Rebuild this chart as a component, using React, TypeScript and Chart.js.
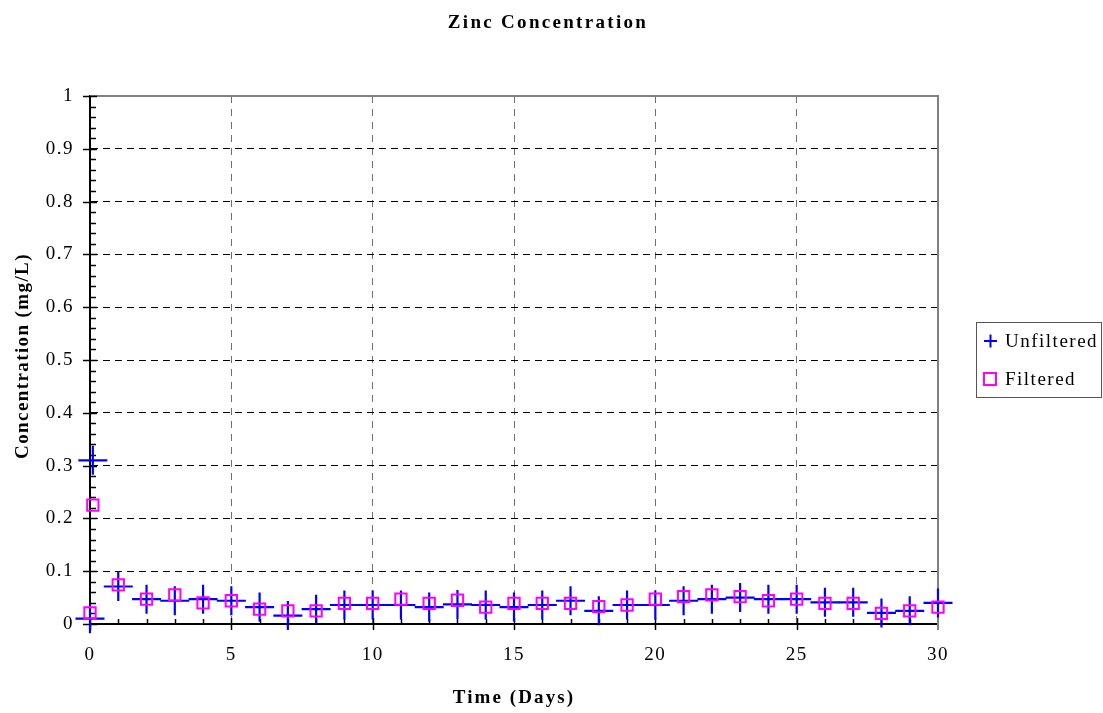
import React, { useEffect, useRef } from "react";
import { Chart, registerables } from "chart.js";

Chart.register(...registerables);

// Sampling times (days); the second sample was taken shortly after start.
const days = [0, 0.1, 1, 2, 3, 4, 5, 6, 7, 8, 9, 10, 11, 12, 13, 14, 15, 16, 17, 18, 19, 20, 21, 22, 23, 24, 25, 26, 27, 28, 29, 30];

// Zinc concentration, mg/L
const unfiltered = [0.01, 0.31, 0.071, 0.047, 0.044, 0.047, 0.044, 0.032, 0.016, 0.028, 0.036, 0.036, 0.036, 0.032, 0.037, 0.036, 0.032, 0.036, 0.044, 0.025, 0.036, 0.036, 0.044, 0.047, 0.05, 0.047, 0.047, 0.041, 0.041, 0.021, 0.025, 0.04];
const filtered = [0.021, 0.225, 0.074, 0.047, 0.055, 0.04, 0.044, 0.028, 0.025, 0.025, 0.039, 0.039, 0.047, 0.039, 0.045, 0.032, 0.039, 0.039, 0.039, 0.033, 0.036, 0.047, 0.052, 0.055, 0.052, 0.044, 0.047, 0.039, 0.039, 0.02, 0.025, 0.032];

const seriesNames = ["Unfiltered", "Filtered"];
const chartTitle = "Zinc Concentration";
const xTitle = "Time (Days)";
const yTitle = "Concentration (mg/L)";

const BLUE = "#0000FF";
const MAGENTA = "#FF00FF";
const SERIF = '"Liberation Serif", "Times New Roman", serif';

const line = (ctx: CanvasRenderingContext2D, x1: number, y1: number, x2: number, y2: number) => {
  ctx.beginPath();
  ctx.moveTo(x1, y1);
  ctx.lineTo(x2, y2);
  ctx.stroke();
};

// Frame, tick marks, titles and the boxed legend
const decor = {
  id: "decor",
  beforeDraw(chart: any) {
    const ctx = chart.ctx as CanvasRenderingContext2D;
    ctx.fillStyle = "#fff";
    ctx.fillRect(0, 0, chart.width, chart.height);
    (ctx as any).letterSpacing = "1.5px";
  },
  beforeDatasetsDraw(chart: any) {
    const ctx = chart.ctx as CanvasRenderingContext2D;
    const a = chart.chartArea;
    const { x, y } = chart.scales;
    ctx.save();
    ctx.strokeStyle = "#808080";
    ctx.lineWidth = 2;
    ctx.beginPath();
    ctx.moveTo(a.left, a.top);
    ctx.lineTo(a.right, a.top);
    ctx.lineTo(a.right, a.bottom + 6);
    ctx.stroke();

    ctx.strokeStyle = "#000";
    ctx.lineWidth = 1.5;
    for (let i = 0; i <= 50; i++) {
      const py = Math.round(y.getPixelForValue(i / 50)) + 0.5;
      if (i % 5 === 0) line(ctx, a.left - 7, py, a.left + 7, py);
      else line(ctx, a.left, py, a.left + 6, py);
    }
    for (let d = 0; d <= 30; d++) {
      const px = Math.round(x.getPixelForValue(d)) + 0.5;
      if (d % 5 === 0) {
        if (d < 30) line(ctx, px, a.bottom - 6, px, a.bottom + 6);
      } else line(ctx, px, a.bottom - 5, px, a.bottom);
    }
    ctx.restore();
  },
  afterDraw(chart: any) {
    const ctx = chart.ctx as CanvasRenderingContext2D;
    const a = chart.chartArea;
    ctx.save();
    ctx.fillStyle = "#000";
    ctx.textBaseline = "alphabetic";

    // chart title
    (ctx as any).letterSpacing = "2.3px";
    ctx.font = `bold 19px ${SERIF}`;
    ctx.textAlign = "center";
    ctx.fillText(chartTitle, 548, 28);

    // axis titles
    (ctx as any).letterSpacing = "2.1px";
    ctx.fillText(xTitle, (a.left + a.right) / 2, 703);
    (ctx as any).letterSpacing = "1.4px";
    ctx.save();
    ctx.translate(28, (a.top + a.bottom) / 2 - 4);
    ctx.rotate(-Math.PI / 2);
    ctx.fillText(yTitle, 0, 0);
    ctx.restore();

    // legend
    ctx.strokeStyle = "#555";
    ctx.lineWidth = 1;
    ctx.strokeRect(976.5, 322.5, 125, 75);
    ctx.strokeStyle = BLUE;
    ctx.lineWidth = 2;
    line(ctx, 984, 341, 997, 341);
    line(ctx, 990.5, 334.5, 990.5, 347.5);
    ctx.strokeStyle = MAGENTA;
    ctx.strokeRect(984, 373, 12, 12);
    (ctx as any).letterSpacing = "1.5px";
    ctx.font = `19px ${SERIF}`;
    ctx.textAlign = "left";
    ctx.fillText(seriesNames[0], 1005, 347);
    ctx.fillText(seriesNames[1], 1005, 385);
    ctx.restore();
  },
};

export default function App() {
  const canvasRef = useRef<HTMLCanvasElement | null>(null);

  useEffect(() => {
    const canvas = canvasRef.current;
    if (!canvas) return;
    const chart = new Chart(canvas, {
      type: "scatter",
      data: {
        datasets: [
          {
            label: seriesNames[0],
            data: days.map((d, i) => ({ x: d, y: unfiltered[i] })),
            pointStyle: "cross",
            pointRadius: 14.5,
            pointBorderWidth: 2.2,
            borderColor: BLUE,
            backgroundColor: BLUE,
            clip: false,
            order: 2,
          },
          {
            label: seriesNames[1],
            data: days.map((d, i) => ({ x: d, y: filtered[i] })),
            pointStyle: "rect",
            pointRadius: 8,
            pointBorderWidth: 2,
            borderColor: MAGENTA,
            backgroundColor: "rgba(0,0,0,0)",
            clip: false,
            order: 1,
          },
        ],
      },
      options: {
        responsive: false,
        animation: false,
        layout: { padding: { left: 0, top: 96, right: 165, bottom: 0 } },
        plugins: {
          legend: { display: false },
          title: { display: false },
          tooltip: { enabled: false },
        },
        scales: {
          x: {
            type: "linear",
            min: 0,
            max: 30,
            afterFit: (s: any) => {
              s.height = 89;
            },
            ticks: {
              stepSize: 5,
              autoSkip: false,
              padding: 20,
              color: "#000",
              font: { family: SERIF, size: 19 },
            },
            grid: {
              drawTicks: false,
              lineWidth: 1,
              color: (c: any) => (c.tick && c.tick.value > 0 && c.tick.value < 30 ? "#707070" : "rgba(0,0,0,0)"),
            },
            border: { display: true, color: "#000", width: 2, dash: [7, 6] },
          },
          y: {
            type: "linear",
            min: 0,
            max: 1,
            afterFit: (s: any) => {
              s.width = 90;
            },
            ticks: {
              stepSize: 0.1,
              autoSkip: false,
              padding: 16,
              color: "#000",
              font: { family: SERIF, size: 19 },
              callback: (v: any) => String(Math.round(Number(v) * 10) / 10),
            },
            grid: {
              drawTicks: false,
              lineWidth: 1,
              color: (c: any) => (c.tick && c.tick.value > 0.001 && c.tick.value < 0.999 ? "#000" : "rgba(0,0,0,0)"),
            },
            border: { display: true, color: "#000", width: 2, dash: [7, 5] },
          },
        },
      },
      plugins: [decor],
    });
    return () => chart.destroy();
  }, []);

  return (
    <div style={{ position: "absolute", left: 0, top: 0, width: 1103, height: 713, background: "#fff" }}>
      <canvas ref={canvasRef} width={1103} height={713} style={{ display: "block" }} />
    </div>
  );
}
